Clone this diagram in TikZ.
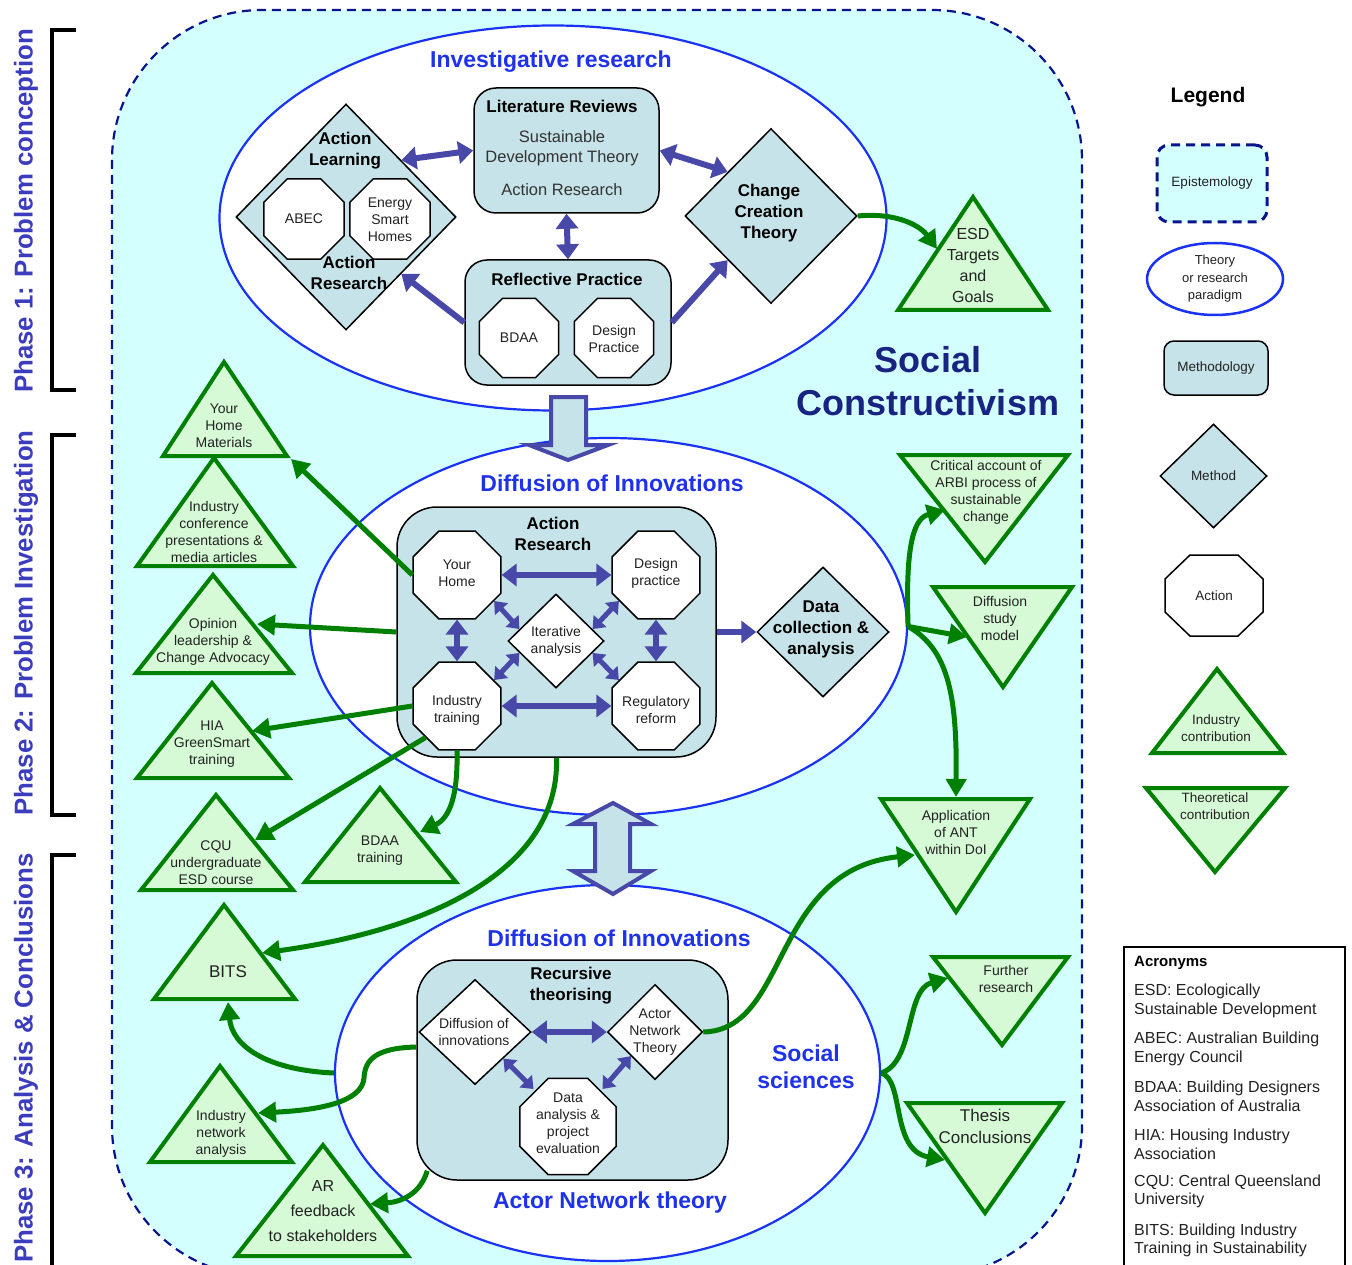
\documentclass[tikz,border=0pt]{standalone}
\usepackage{fontspec}
\setmainfont{Liberation Sans}
\usetikzlibrary{shapes.geometric,arrows.meta,calc}

\newcommand\fsz[2]{\fontsize{#1pt}{#2pt}\selectfont}

\definecolor{episfill}{RGB}{212,255,255}
\definecolor{episline}{RGB}{10,20,140}
\definecolor{theoryline}{RGB}{25,50,245}
\definecolor{titleblue}{RGB}{30,50,235}
\definecolor{navytext}{RGB}{25,35,130}
\definecolor{methfill}{RGB}{197,227,232}
\definecolor{flowblue}{RGB}{72,72,168}
\definecolor{contribgreen}{RGB}{0,128,0}
\definecolor{contribfill}{RGB}{214,250,214}
\definecolor{phaseblue}{RGB}{60,60,190}
\definecolor{bodytext}{RGB}{34,34,34}

\tikzset{
  epistemology/.style={draw=episline, line width=2.2pt, dash pattern=on 9pt off 6pt, fill=episfill},
  theoryell/.style={ellipse, draw=theoryline, line width=2.2pt, fill=white, inner sep=0pt, align=center},
  methodbox/.style={rectangle, draw=black, line width=1.5pt, fill=methfill, inner sep=0pt, align=center},
  methoddia/.style={diamond, draw=black, line width=1.5pt, fill=methfill, inner sep=0pt},
  probedia/.style={diamond, draw=black, line width=1.5pt, fill=white, inner sep=0pt},
  actionoct/.style={regular polygon, regular polygon sides=8, draw=black, line width=1.5pt,
                    fill=white, inner sep=0pt},
  contrib/.style={draw=contribgreen, line width=4pt, fill=contribfill, line join=miter},
  ctext/.style={align=center, inner sep=0pt, text=bodytext},
  headtext/.style={font=\fsz{23}{27}\bfseries, text=titleblue, align=center, inner sep=0pt},
  boldlabel/.style={font=\fsz{17}{21}\bfseries, align=center, inner sep=0pt},
  flowarrow/.style={draw=flowblue, line width=6pt, -{Triangle[length=15pt,width=22pt]}},
  flowpair/.style={draw=flowblue, line width=6pt,
                   {Triangle[length=15pt,width=22pt]}-{Triangle[length=15pt,width=22pt]}},
  flowpairs/.style={draw=flowblue, line width=5pt,
                    {Triangle[length=11pt,width=17pt]}-{Triangle[length=11pt,width=17pt]}},
  feedarrow/.style={draw=contribgreen, line width=5pt, -{Triangle[length=18pt,width=20pt]}},
  blockarrow/.style={draw=flowblue, line width=4pt, fill=methfill, line join=miter},
  brackline/.style={draw=black, line width=4pt},
  phaselabel/.style={rotate=90, font=\fsz{25.8}{30}\bfseries, text=phaseblue, inner sep=0pt},
  acrtext/.style={anchor=west, align=left, inner sep=0pt, font=\fsz{16}{18.5}, text=bodytext},
}

\begin{document}
\begin{tikzpicture}[x=1pt,y=-1pt,font=\fsz{14}{17}]
\useasboundingbox (0,0) rectangle (1352,1265);
\fill[white] (0,0) rectangle (1352,1265);

% ---------- epistemology frame ----------
\draw[epistemology, rounded corners=150pt] (112,10) rectangle (1082,1276);

% ---------- phases ----------
\draw[brackline] (76,30) -- (52,30) -- (52,390) -- (76,390);
\draw[brackline] (76,435) -- (52,435) -- (52,815) -- (76,815);
\draw[brackline] (76,855) -- (52,855) -- (52,1272);
\node[phaselabel] (ph1) at (26,211) {Phase 1: Problem conception};
\node[phaselabel] (ph2) at (26,623) {Phase 2: Problem Investigation};
\node[phaselabel] (ph3) at (26,1058) {Phase 3: Analysis \& Conclusions};

% ---------- theory ellipses ----------
\node[theoryell, minimum width=667pt, minimum height=385pt] (invres) at (553,218) {};
\node[theoryell, minimum width=597pt, minimum height=377pt] (doi1) at (608.5,626.5) {};
\node[theoryell, minimum width=545pt, minimum height=376pt] (doi2) at (607.5,1073) {};

\node[headtext] (invres-t) at (551,62) {Investigative research};
\node[headtext] (doi1-t) at (612,483) {Diffusion of Innovations};
\node[headtext] (doi2-t) at (619,938) {Diffusion of Innovations};
\node[headtext] (ant-t) at (610,1203) {Actor Network theory};
\node[headtext] (socsci) at (806,1066.5) {Social\\sciences};

\node[font=\fsz{36}{43}\bfseries, text=navytext, align=center, inner sep=0pt] (soccon) at (928,381.5) {Social\\Constructivism};

% ---------- block arrows between ellipses ----------
\fill[flowblue] (549,395) rectangle (588,412);
\draw[blockarrow] (551,397) -- (586,397) -- (586,445) -- (608,445) -- (568,460) -- (529,445) -- (551,445) -- cycle;
\draw[blockarrow] (613,803) -- (651,824) -- (630,824) -- (630,871) -- (651,871) -- (613,894)
                  -- (573,871) -- (595,871) -- (595,824) -- (573,824) -- cycle;

% ---------- phase 1: investigative research ----------
\node[methodbox, rounded corners=22pt, minimum width=185pt, minimum height=125pt] (lit) at (566.5,150.5) {};
\node[boldlabel] (lit-t) at (562,106) {Literature Reviews};
\node[ctext, font=\fsz{16.5}{20}, text=black!80] (lit-sdt) at (562,148) {Sustainable\\Development Theory};
\node[ctext, font=\fsz{16.5}{20}, text=black!80] (lit-ar) at (562,190) {Action Research};

\node[methoddia, minimum width=220pt, minimum height=226pt] (al) at (346,217) {};
\node[boldlabel] (al-t) at (345,151) {Action\\Learning};
\node[boldlabel] (al-b) at (349,273) {Action\\Research};
\node[actionoct, minimum size=87pt] (abec) at (304,219) {};
\node[ctext] (abec-t) at (304,219) {ABEC};
\node[actionoct, minimum size=87pt] (esh) at (390,219) {};
\node[ctext] (esh-t) at (390,220) {Energy\\Smart\\Homes};

\node[methoddia, minimum width=172pt, minimum height=175pt] (cct) at (771,216) {};
\node[boldlabel] (cct-t) at (769,213) {Change\\Creation\\Theory};

\node[methodbox, rounded corners=22pt, minimum width=206pt, minimum height=125pt] (refl) at (568,322.5) {};
\node[boldlabel] (refl-t) at (567,279) {Reflective Practice};
\node[actionoct, minimum size=86pt] (bdaa) at (519,338) {};
\node[ctext] (bdaa-t) at (519,338) {BDAA};
\node[actionoct, minimum size=86pt] (dpr) at (614,338) {};
\node[ctext] (dpr-t) at (614,338.5) {Design\\Practice};

\draw[flowpair] (al.north east) -- (lit.west);
\draw[flowpair] (lit.east) -- (cct.north west);
\draw[flowpair] (lit.south) -- (refl.north);
\draw[flowarrow] (refl.west) -- (al.south east);
\draw[flowarrow] (refl.east) -- (cct.south west);

% ---------- phase 2: action research ----------
\node[methodbox, rounded corners=40pt, minimum width=319pt, minimum height=250pt] (arbox) at (556.5,632) {};
\node[boldlabel] (arbox-t) at (553,534) {Action\\Research};
\node[actionoct, minimum size=95pt] (yh) at (457,575) {};
\node[ctext] (yh-t) at (457,573) {Your\\Home};
\node[actionoct, minimum size=95pt] (dp) at (656,575) {};
\node[ctext] (dp-t) at (656,573) {Design\\practice};
\node[actionoct, minimum size=95pt] (it) at (457,706) {};
\node[ctext] (it-t) at (457,710) {Industry\\training};
\node[actionoct, minimum size=95pt] (rr) at (656,706) {};
\node[ctext] (rr-t) at (656,710) {Regulatory\\reform};
\node[probedia, minimum width=96pt, minimum height=94pt] (iter) at (556,641) {};
\node[ctext] (iter-t) at (556,641.5) {Iterative\\analysis};

\draw[flowpair] (yh.east) -- (dp.west);
\draw[flowpair] (it.east) -- (rr.west);
\draw[flowpair] (yh.south) -- (it.north);
\draw[flowpair] (dp.south) -- (rr.north);
\draw[flowpairs] (yh.-35) -- ($(iter.west)!0.25!(iter.north)$);
\draw[flowpairs] (dp.-145) -- ($(iter.east)!0.25!(iter.north)$);
\draw[flowpairs] (it.35) -- ($(iter.west)!0.25!(iter.south)$);
\draw[flowpairs] (rr.145) -- ($(iter.east)!0.25!(iter.south)$);

\node[methoddia, minimum width=132pt, minimum height=130pt] (data) at (823,632) {};
\node[boldlabel] (data-t) at (821,629) {Data\\collection \&\\analysis};
\draw[flowarrow] (arbox.east) -- (data.west);

% ---------- phase 3: recursive theorising ----------
\node[methodbox, rounded corners=40pt, minimum width=311pt, minimum height=220pt] (rbox) at (572.5,1070) {};
\node[boldlabel] (rbox-t) at (571,985.5) {Recursive\\theorising};
\node[probedia, minimum width=112pt, minimum height=105pt] (doid) at (475,1032) {};
\node[ctext] (doid-t) at (474,1032) {Diffusion of\\innovations};
\node[probedia, minimum width=95pt, minimum height=95pt] (antd) at (655,1032) {};
\node[ctext] (antd-t) at (655,1032) {Actor\\Network\\Theory};
\node[actionoct, minimum size=104pt] (dapa) at (568,1126.5) {};
\node[ctext] (dapa-t) at (568,1123) {Data\\analysis \&\\project\\evaluation};

\draw[flowpair] (doid.east) -- (antd.west);
\draw[flowpairs] (doid.south east) -- ([yshift=3pt]dapa.north west);
\draw[flowpairs] (antd.south west) -- ([yshift=3pt]dapa.north east);

% ---------- contributions (industry: upright, theoretical: inverted) ----------
\draw[contrib] (973,197) -- (898,310) -- (1048,310) -- cycle;
\node[ctext, font=\fsz{16}{21}] (esd) at (973,265.5) {ESD\\Targets\\and\\Goals};
\draw[contrib] (224,362) -- (163,456) -- (287,456) -- cycle;
\node[ctext] (ymat) at (224,426) {Your\\Home\\Materials};
\draw[contrib] (214,458) -- (137,566) -- (293,566) -- cycle;
\node[ctext] (icp) at (214,531.5) {Industry\\conference\\presentations \&\\media articles};
\draw[contrib] (213,575) -- (136,673) -- (292,673) -- cycle;
\node[ctext] (olca) at (213,642) {Opinion\\leadership \&\\Change Advocacy};
\draw[contrib] (212,683) -- (137,778) -- (289,778) -- cycle;
\node[ctext] (hia) at (212,744.5) {HIA\\GreenSmart\\training};
\draw[contrib] (216,795) -- (141,890) -- (293,890) -- cycle;
\node[ctext] (cqu) at (216,862.5) {CQU\\undergraduate\\ESD course};
\draw[contrib] (380,788) -- (305,882) -- (456,882) -- cycle;
\node[ctext] (bdaat) at (380,851) {BDAA\\training};
\draw[contrib] (224,905) -- (154,999) -- (295,999) -- cycle;
\node[ctext, font=\fsz{17}{20}] (bits) at (228,972) {BITS};
\draw[contrib] (220,1066) -- (150,1162) -- (292,1162) -- cycle;
\node[ctext] (ina) at (221,1133.5) {Industry\\network\\analysis};
\draw[contrib] (323,1145) -- (236,1256) -- (408,1256) -- cycle;
\node[ctext, font=\fsz{16}{25}] (arf) at (323,1211.5) {AR\\feedback\\to stakeholders};

\draw[contrib] (900,455) -- (1068,455) -- (985,562) -- cycle;
\node[ctext] (crit) at (986,492.5) {Critical account of\\ARBI process of\\sustainable\\change};
\draw[contrib] (933,587) -- (1072,587) -- (1003,687) -- cycle;
\node[ctext] (dsm) at (1000,618) {Diffusion\\study\\model};
\draw[contrib] (881,799) -- (1030,799) -- (956,912) -- cycle;
\node[ctext] (appant) at (956,832) {Application\\of ANT\\within DoI};
\draw[contrib] (933,957) -- (1068,957) -- (1002,1045) -- cycle;
\node[ctext] (fres) at (1006,978.5) {Further\\research};
\draw[contrib] (907,1103) -- (1062,1103) -- (985,1213) -- cycle;
\node[ctext, font=\fsz{17}{22}] (thesis) at (985,1126) {Thesis\\Conclusions};

% arrival points on the contribution shapes
\coordinate (esd-in) at (937,249);
\coordinate (ymat-in) at (291,459);
\coordinate (olca-in) at (257,624);
\coordinate (hia-in) at (252,731);
\coordinate (cqu-in) at (255,840);
\coordinate (bdaat-in) at (420,832);
\coordinate (bits-in1) at (262,953);
\coordinate (bits-in2) at (228,1002);
\coordinate (ina-in) at (258,1113);
\coordinate (arf-in) at (370,1204);
\coordinate (crit-in) at (945,510);
\coordinate (dsm-in) at (967,637);
\coordinate (app-in1) at (956,797);
\coordinate (app-in2) at (915,855);
\coordinate (fres-in) at (948,978);
\coordinate (thesis-in) at (945,1160);

% ---------- outputs ----------
\draw[feedarrow] (cct.east) .. controls (900,212) and (922,228) .. (esd-in);
\draw[feedarrow] (yh.west) -- (ymat-in);
\draw[feedarrow] (arbox.west) -- (olca-in);
\draw[feedarrow] (it.west) -- (hia-in);
\draw[feedarrow] (it.south west) -- (cqu-in);
\draw[feedarrow] (it.south) .. controls (458,795) and (450,818) .. (bdaat-in);
\draw[feedarrow] (arbox.south) .. controls (560,870) and (430,930) .. (bits-in1);
\draw[feedarrow] (doi1.east) .. controls (905,540) and (915,518) .. (crit-in);
\draw[feedarrow] (doi1.east) -- (dsm-in);
\draw[feedarrow] (doi1.east) .. controls (950,650) and (957,700) .. (app-in1);
\draw[feedarrow] (antd.east) .. controls (790,1030) and (770,870) .. (app-in2);
\draw[feedarrow] (doi2.east) .. controls (915,1062) and (905,990) .. (fres-in);
\draw[feedarrow] (doi2.east) .. controls (905,1080) and (890,1150) .. (thesis-in);
\draw[feedarrow] (doi2.west) .. controls (265,1070) and (232,1045) .. (bits-in2);
\draw[feedarrow] ([yshift=23pt]rbox.west) .. controls (375,1048) and (365,1060) .. (364,1078)
                 .. controls (362,1102) and (320,1110) .. (ina-in);
\draw[feedarrow] ([xshift=11pt,yshift=10pt]rbox.south west) .. controls (420,1195) and (400,1202) .. (arf-in);

% ---------- legend ----------
\node[font=\fsz{21}{25}\bfseries, inner sep=0pt] (lg) at (1208,97) {Legend};
\node[epistemology, rectangle, rounded corners=12pt, line width=3pt, minimum width=110pt,
      minimum height=77pt, inner sep=0pt, font=\fsz{13.5}{17}, text=bodytext] (lg-epi) at (1212,183.5) {Epistemology};
\node[theoryell, line width=2.5pt, minimum width=136pt, minimum height=72pt,
      font=\fsz{13}{17.5}, text=bodytext] (lg-th) at (1215,279) {Theory\\or research\\paradigm};
\node[methodbox, rounded corners=10pt, minimum width=104pt, minimum height=54pt,
      font=\fsz{13.5}{17}, text=bodytext] (lg-meth) at (1216,368) {Methodology};
\node[methoddia, minimum width=107pt, minimum height=104pt] (lg-method) at (1213.5,476) {};
\node[ctext, font=\fsz{13.5}{17}] (lg-method-t) at (1213.5,476) {Method};
\draw[draw=black, line width=1.5pt, fill=white] (1190,555) -- (1238,555) -- (1263,579) -- (1263,612)
      -- (1238,636) -- (1190,636) -- (1165,612) -- (1165,579) -- cycle;
\node[ctext, font=\fsz{13.5}{17}] (lg-act) at (1214,595.5) {Action};
\draw[contrib] (1217,669) -- (1152,753) -- (1283,753) -- cycle;
\node[ctext, font=\fsz{13.5}{17}] (lg-ind) at (1216,728.5) {Industry\\contribution};
\draw[contrib] (1146,788) -- (1285,788) -- (1215,872) -- cycle;
\node[ctext, font=\fsz{13.5}{17}] (lg-theo) at (1215,806.5) {Theoretical\\contribution};

% ---------- acronyms ----------
\draw[line width=2pt] (1124,947) rectangle (1345,1268);
\node[anchor=west, inner sep=0pt, font=\fsz{15}{18}\bfseries] (acr-t) at (1134,963) {Acronyms};
\node[acrtext] (acr-esd) at (1134,1001) {ESD: Ecologically\\Sustainable Development};
\node[acrtext] (acr-abec) at (1134,1049) {ABEC: Australian Building\\Energy Council};
\node[acrtext] (acr-bdaa) at (1134,1096.5) {BDAA: Building Designers\\Association of Australia};
\node[acrtext] (acr-hia) at (1134,1144.5) {HIA: Housing Industry\\Association};
\node[acrtext] (acr-cqu) at (1134,1191.5) {CQU: Central Queensland\\University};
\node[acrtext] (acr-bits) at (1134,1240.5) {BITS: Building Industry\\Training in Sustainability};

\end{tikzpicture}
\end{document}
